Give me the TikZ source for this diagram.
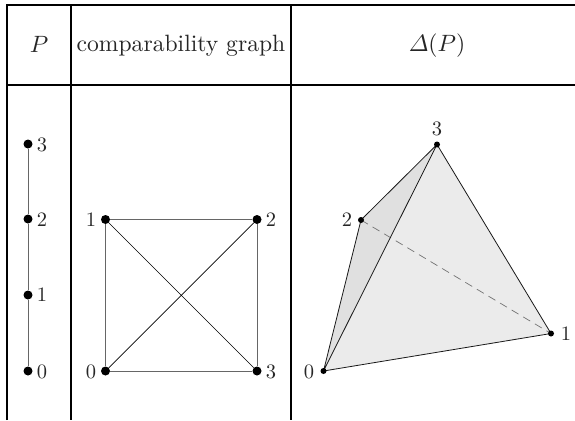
\documentclass[tikz,border=0pt]{standalone}
\usepackage{amsmath}
\usetikzlibrary{calc}
\definecolor{facelight}{HTML}{EBEBEB}
\definecolor{facedark}{HTML}{E0E0E0}
\tikzset{
  vertex/.style={circle,fill=black,inner sep=0pt,minimum size=9pt},
  vertexsmall/.style={circle,fill=black,inner sep=0pt,minimum size=6pt},
  rule/.style={line width=1.8pt},
  edge/.style={black!60,line width=1pt},
  lab/.style={scale=2.05,inner sep=0pt,text=black!85},
  head/.style={scale=2.36,inner sep=0pt,text=black!85}
}
\begin{document}
\begin{tikzpicture}[x=1pt,y=-1pt]
  \useasboundingbox (0,0) rectangle (575,420);
  % table rules
  \draw[rule] (7,420)--(7,5)--(575,5);
  \draw[rule] (7,85)--(575,85);
  \draw[rule] (71,5)--(71,420);
  \draw[rule] (291,5)--(291,420);
  \node[head] (headP) at (39,44) {$P$};
  \node[head] (headG) at (181,46) {comparability graph};
  \node[head] (headD) at (437,46) {$\varDelta(P)$};

  % chain
  \node[vertex] (p0) at (28,371) {};
  \node[vertex] (p1) at (28,295) {};
  \node[vertex] (p2) at (28,219) {};
  \node[vertex] (p3) at (28,144) {};
  \draw[edge] (p0)--(p1)--(p2)--(p3);
  \node[lab] (lp0) at (42,372) {0};
  \node[lab] (lp1) at (42,295) {1};
  \node[lab] (lp2) at (42,220) {2};
  \node[lab] (lp3) at (42,145) {3};

  % comparability graph
  \node[vertex] (g0) at (105.5,371) {};
  \node[vertex] (g1) at (105.5,219.5) {};
  \node[vertex] (g2) at (257,219.5) {};
  \node[vertex] (g3) at (257,371) {};
  \draw[edge] (g0)--(g1)--(g2)--(g3)--(g0);
  \draw[black,line width=.7pt] (g0)--(g2) (g1)--(g3);
  \node[lab] (lg0) at (91,372) {0};
  \node[lab] (lg1) at (91,220) {1};
  \node[lab] (lg2) at (271,220) {2};
  \node[lab] (lg3) at (271,372) {3};

  % simplex
  \coordinate (s0) at (323.5,371);
  \coordinate (s1) at (551,333.5);
  \coordinate (s2) at (361,220);
  \coordinate (s3) at (437,144.5);
  \fill[facelight] (s0)--(s1)--(s3)--cycle;
  \fill[facedark] (s0)--(s2)--(s3)--cycle;
  \draw[black!55,dash pattern=on 8pt off 5.5pt,line width=.7pt] (s2)--(s1);
  \draw[black!90,line width=.8pt] (s0)--(s1)--(s3)--(s2)--(s0) (s0)--(s3);
  \node[vertexsmall] (v0) at (s0) {};
  \node[vertexsmall] (v1) at (s1) {};
  \node[vertexsmall] (v2) at (s2) {};
  \node[vertexsmall] (v3) at (s3) {};
  \node[lab] (ls0) at (309,372) {0};
  \node[lab] (ls1) at (566,334) {1};
  \node[lab] (ls2) at (347,220) {2};
  \node[lab] (ls3) at (437,129) {3};
\end{tikzpicture}
\end{document}
